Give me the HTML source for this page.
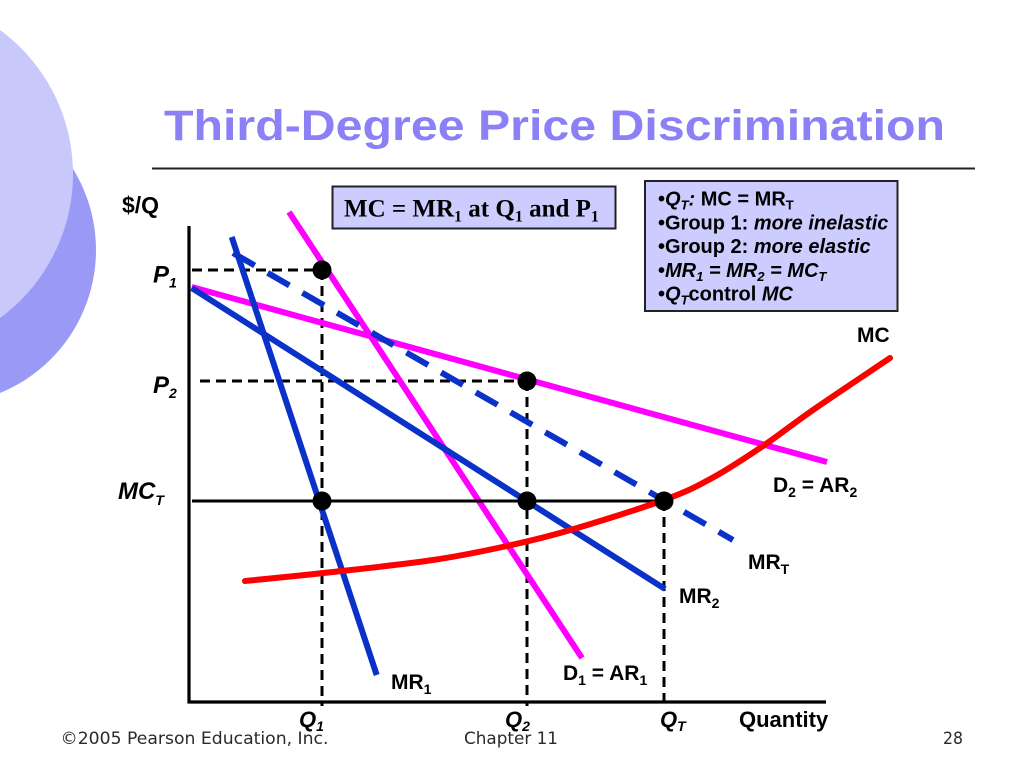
<!DOCTYPE html>
<html>
<head>
<meta charset="utf-8">
<style>
  html,body{margin:0;padding:0;background:#fff;}
  svg{display:block;}
  .lbl{font-family:"Liberation Sans",Arial,sans-serif;font-weight:bold;fill:#000;}
  .it{font-style:italic;}
</style>
</head>
<body>
<svg width="1024" height="767" viewBox="0 0 1024 767" xmlns="http://www.w3.org/2000/svg">
  <rect x="0" y="0" width="1024" height="767" fill="#ffffff"/>
  <!-- decorative circles -->
  <circle cx="-58.5" cy="250" r="154.5" fill="#9a9af6"/>
  <circle cx="-105.5" cy="174" r="178.5" fill="#c8c8fb"/>

  <!-- title -->
  <text x="164" y="140" font-family="'Liberation Sans',Arial,sans-serif" font-weight="bold" font-size="43" fill="#8b80f5" textLength="781" lengthAdjust="spacingAndGlyphs">Third-Degree Price Discrimination</text>
  <line x1="152" y1="168.5" x2="975" y2="168.5" stroke="#222" stroke-width="2"/>

  <!-- dashed reference lines -->
  <g stroke="#000" stroke-width="3" stroke-dasharray="10 6" fill="none">
    <line x1="192" y1="270" x2="322" y2="270"/>
    <line x1="200" y1="381" x2="527" y2="381"/>
    <line x1="322" y1="270" x2="322" y2="706"/>
    <line x1="527" y1="381" x2="527" y2="706"/>
    <line x1="664" y1="501" x2="664" y2="706"/>
  </g>

  <!-- axes -->
  <line x1="189" y1="226" x2="189" y2="703.5" stroke="#000" stroke-width="3.2"/>
  <line x1="187.5" y1="702" x2="826" y2="702" stroke="#000" stroke-width="3.2"/>

  <!-- demand and MR lines -->
  <g stroke-width="6" fill="none">
    <line x1="191.7" y1="287" x2="827" y2="462" stroke="#ff00ff"/>
    <line x1="289" y1="212" x2="582" y2="658" stroke="#ff00ff"/>
    <line x1="231.7" y1="237" x2="376.7" y2="675" stroke="#0a32c8"/>
    <line x1="191.7" y1="288" x2="665" y2="589" stroke="#0a32c8"/>
    <line x1="233" y1="253" x2="733" y2="540" stroke="#0a32c8" stroke-dasharray="25 15"/>
  </g>

  <!-- MCT line -->
  <line x1="192" y1="501" x2="664" y2="501" stroke="#000" stroke-width="3"/>

  <!-- MC curve -->
  <path fill="none" stroke="#ff0000" stroke-width="6" stroke-linejoin="round" stroke-linecap="round"
    d="M245,581 C259.7,579.5 301.7,575.5 333,572 C364.3,568.5 405.2,564.1 433,560 C460.8,555.9 477.7,552.3 500,547.5 C522.3,542.7 539.7,538.9 567,531 C594.3,523.1 639.7,508.9 664,500 C688.3,491.1 696.5,486.5 713,477.5 C729.5,468.5 746.3,457.25 763,446 C779.7,434.75 791.8,424.7 813,410 C834.2,395.3 877.2,366.7 890,358"/>

  <!-- dots -->
  <g fill="#000">
    <circle cx="322" cy="270" r="9.5"/>
    <circle cx="322" cy="501" r="9.5"/>
    <circle cx="527" cy="381" r="9.5"/>
    <circle cx="527" cy="501" r="9.5"/>
    <circle cx="664" cy="501" r="9.5"/>
  </g>

  <!-- axis labels -->
  <text class="lbl" x="122" y="213" font-size="23">$/Q</text>
  <text class="lbl it" x="153" y="282.5" font-size="24">P<tspan font-size="14" dy="5">1</tspan></text>
  <text class="lbl it" x="153" y="393" font-size="24">P<tspan font-size="14" dy="5">2</tspan></text>
  <text class="lbl it" x="118" y="499" font-size="24">MC<tspan font-size="14" dy="6">T</tspan></text>
  <text class="lbl it" x="299" y="727" font-size="22">Q<tspan font-size="14" dy="4">1</tspan></text>
  <text class="lbl it" x="505" y="727" font-size="22">Q<tspan font-size="14" dy="4">2</tspan></text>
  <text class="lbl it" x="660" y="727" font-size="22">Q<tspan font-size="14" dy="4">T</tspan></text>
  <text class="lbl" x="739" y="727" font-size="22">Quantity</text>

  <!-- curve labels -->
  <text class="lbl" x="391" y="689" font-size="21">MR<tspan font-size="14" dy="5">1</tspan></text>
  <text class="lbl" x="563" y="680" font-size="21">D<tspan font-size="14" dy="5">1</tspan><tspan dy="-5"> = AR</tspan><tspan font-size="14" dy="5">1</tspan></text>
  <text class="lbl" x="679" y="603" font-size="21">MR<tspan font-size="14" dy="5">2</tspan></text>
  <text class="lbl" x="748" y="569" font-size="21">MR<tspan font-size="14" dy="5">T</tspan></text>
  <text class="lbl" x="773" y="492" font-size="21">D<tspan font-size="14" dy="5">2</tspan><tspan dy="-5"> = AR</tspan><tspan font-size="14" dy="5">2</tspan></text>
  <text class="lbl" x="857" y="342" font-size="21">MC</text>

  <!-- box 1 -->
  <rect x="332.5" y="186.5" width="283" height="42" fill="#ccccff" stroke="#222" stroke-width="2"/>
  <text x="344" y="216.5" font-family="'Liberation Serif','Times New Roman',serif" font-weight="bold" font-size="25" fill="#000">MC = MR<tspan font-size="16" dy="5">1</tspan><tspan dy="-5"> at Q</tspan><tspan font-size="16" dy="5">1</tspan><tspan dy="-5"> and P</tspan><tspan font-size="16" dy="5">1</tspan></text>

  <!-- box 2 -->
  <rect x="645" y="181" width="252.5" height="130" fill="#ccccff" stroke="#222" stroke-width="2"/>
  <g class="lbl" font-size="20">
    <text x="658" y="205.5">•<tspan class="it">Q</tspan><tspan class="it" font-size="13" dy="4">T</tspan><tspan class="it" dy="-4">:</tspan> MC = MR<tspan font-size="13" dy="4">T</tspan></text>
    <text x="658" y="229.3">•Group 1: <tspan class="it">more inelastic</tspan></text>
    <text x="658" y="253">•Group 2: <tspan class="it">more elastic</tspan></text>
    <text x="658" y="277">•<tspan class="it">MR</tspan><tspan class="it" font-size="13" dy="4">1</tspan><tspan class="it" dy="-4"> = MR</tspan><tspan class="it" font-size="13" dy="4">2</tspan><tspan class="it" dy="-4"> = MC</tspan><tspan class="it" font-size="13" dy="4">T</tspan></text>
    <text x="658" y="300.7">•<tspan class="it">Q</tspan><tspan class="it" font-size="13" dy="4">T</tspan><tspan dy="-4">control </tspan><tspan class="it">MC</tspan></text>
  </g>

  <!-- footer -->
  <g font-family="'DejaVu Sans',Verdana,sans-serif" font-size="17" fill="#2a2a2a">
    <text x="60.5" y="744" textLength="268" lengthAdjust="spacingAndGlyphs">©2005 Pearson Education, Inc.</text>
    <text x="464" y="744" textLength="94" lengthAdjust="spacingAndGlyphs">Chapter 11</text>
    <text x="943" y="744" textLength="20" lengthAdjust="spacingAndGlyphs">28</text>
  </g>
</svg>
</body>
</html>
